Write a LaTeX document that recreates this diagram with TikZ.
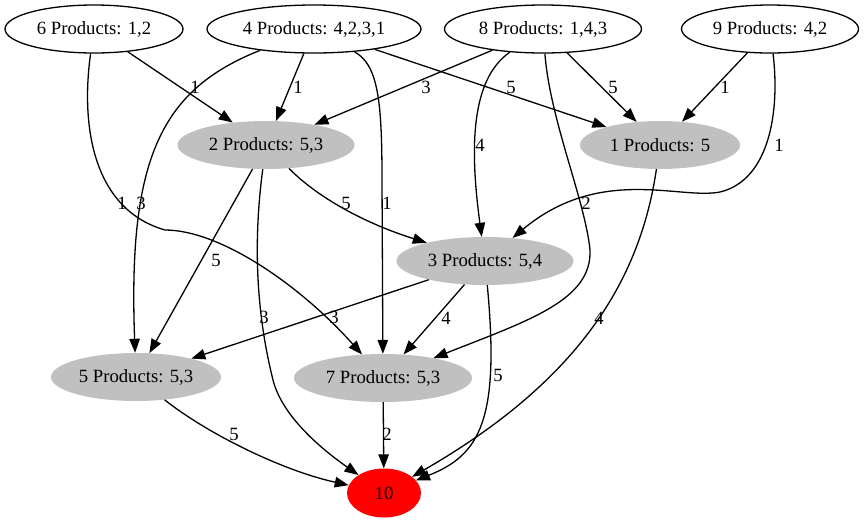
\documentclass[tikz,border=0pt]{standalone}
\usepackage{fontspec}
\setmainfont{Liberation Serif}
\usetikzlibrary{shapes.geometric,arrows.meta}
\definecolor{prodgray}{HTML}{C0C0C0}

\begin{document}
\begin{tikzpicture}[x=1pt,y=-1pt,font=\fontsize{18.7}{22}\selectfont,
    srcnode/.style={ellipse,draw,line width=1.3pt,minimum height=48pt,inner sep=0pt},
    midnode/.style={ellipse,fill=prodgray,minimum height=48pt,inner sep=0pt},
    sinknode/.style={ellipse,fill=red,minimum width=74pt,minimum height=49pt,inner sep=0pt},
    wlabel/.style={inner sep=0pt},
    flow/.style={draw,line width=1.3pt,->,>={Triangle[length=14pt,width=10.5pt]}}]
\useasboundingbox (0,0) rectangle (865,523);

% suppliers
\node[srcnode,minimum width=178pt] at (94,29)(n6){6 Products: 1,2};
\node[srcnode,minimum width=214pt] at (314,29)(n4){4 Products: 4,2,3,1};
\node[srcnode,minimum width=197pt] at (543,29)(n8){8 Products: 1,4,3};
\node[srcnode,minimum width=177pt] at (770,29)(n9){9 Products: 4,2};

% intermediate
\node[midnode,minimum width=177pt] at (266,145)(n2){2 Products: 5,3};
\node[midnode,minimum width=160pt] at (660,145)(n1){1 Products: 5};
\node[midnode,minimum width=177pt] at (485,261)(n3){3 Products: 5,4};
\node[midnode,minimum width=170pt] at (136,377)(n5){5 Products: 5,3};
\node[midnode,minimum width=178pt] at (383,378)(n7){7 Products: 5,3};
\node[sinknode] at (384,493)(n10){10};

% weighted edges
\path[flow] (n6) -- (n2) node[wlabel] (w62) at (195,87) {1};
\path[flow] (n4) -- (n2) node[wlabel] (w42) at (298,87) {1};
\path[flow] (n8) -- (n2) node[wlabel] (w82) at (426,87) {3};
\path[flow] (n4) -- (n1) node[wlabel] (w41) at (511,87) {5};
\path[flow] (n8) -- (n1) node[wlabel] (w81) at (613,87) {5};
\path[flow] (n9) -- (n1) node[wlabel] (w91) at (725,87) {1};
\path[flow] (n8) .. controls (470,80) and (470,150) .. (n3) node[wlabel] (w83) at (480,145) {4};
\path[flow] (n9) .. controls (780,110) and (770,180) .. (720,192)
    .. controls (680,200) and (600,165) .. (n3) node[wlabel] (w93) at (779,145) {1};
\path[flow] (n6) .. controls (80,130) and (95,210) .. (165,230)
    .. controls (220,230) and (300,285) .. (n7) node[wlabel] (w67) at (122,203) {1};
\path[flow] (n4) .. controls (160,90) and (128,160) .. (n5) node[wlabel] (w45) at (141,203) {3};
\path[flow] (n2) .. controls (320,200) and (370,225) .. (n3) node[wlabel] (w23) at (346,203) {5};
\path[flow] (n4) .. controls (378,65) and (382,100) .. (382,180) -- (n7) node[wlabel] (w47) at (387,203) {1};
\path[flow] (n8) .. controls (550,120) and (585,200) .. (590,250)
    .. controls (592,300) and (530,320) .. (n7) node[wlabel] (w87) at (586,203) {2};
\path[flow] (n2) -- (n5) node[wlabel] (w25) at (216,260) {5};
\path[flow] (n2) .. controls (252,250) and (258,320) .. (273,380)
    .. controls (283,420) and (330,455) .. (n10) node[wlabel] (w210) at (264,317) {3};
\path[flow] (n3) -- (n5) node[wlabel] (w35) at (334,317) {3};
\path[flow] (n3) -- (n7) node[wlabel] (w37) at (446,318) {4};
\path[flow] (n1) .. controls (640,280) and (580,380) .. (n10) node[wlabel] (w110) at (599,318) {4};
\path[flow] (n3) .. controls (500,420) and (480,455) .. (n10) node[wlabel] (w310) at (498,375) {5};
\path[flow] (n5) .. controls (205,432) and (280,470) .. (n10) node[wlabel] (w510) at (234,434) {5};
\path[flow] (n7) -- (n10) node[wlabel] (w710) at (387,434) {2};
\end{tikzpicture}
\end{document}
